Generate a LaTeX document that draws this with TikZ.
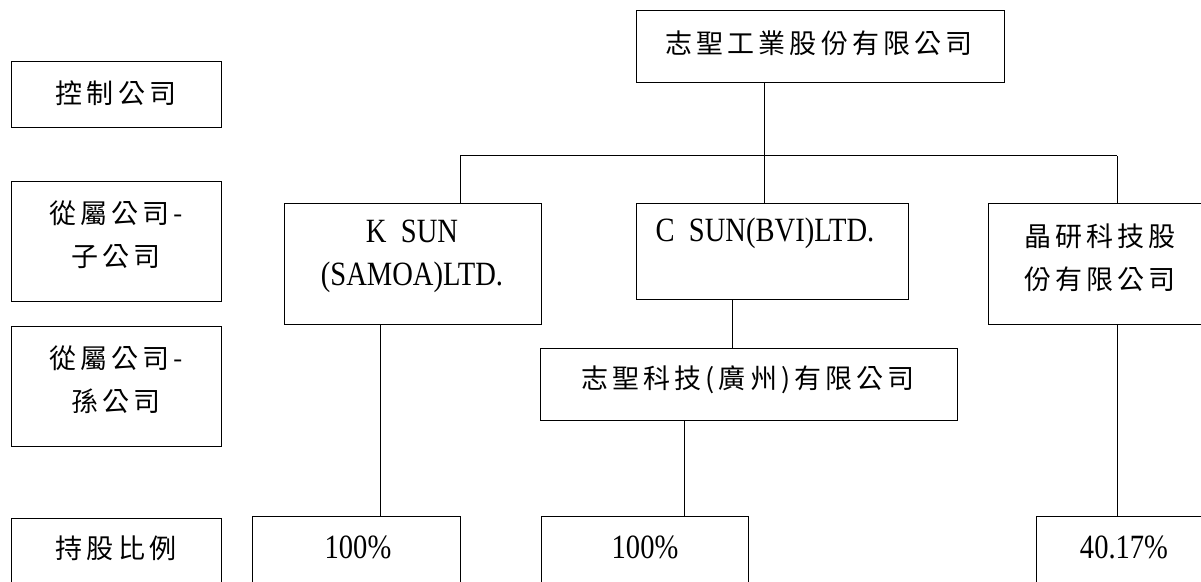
\documentclass[tikz,border=0pt]{standalone}
\usepackage{fontspec}
\newfontfamily\cjk{Noto Sans CJK TC}[LetterSpace=15]
\newfontfamily\lat{Liberation Serif}[FakeStretch=0.84,WordSpace=2]
\tikzset{
  boxst/.style={draw, line width=1bp, inner sep=0pt, outer sep=0pt, rectangle},
  cjktext/.style={font=\cjk\fontsize{27bp}{43bp}\selectfont, align=center, inner sep=0pt},
  lattext/.style={font=\lat\fontsize{34bp}{43bp}\selectfont, align=center, inner sep=0pt},
  conn/.style={line width=1bp}
}
\newcommand\mkbox[5]{\node[boxst, minimum width={(#4-#2)*1bp}, minimum height={(#5-#3)*1bp}] (#1) at ({(#2+#4)/2},{(#3+#5)/2}) {};}
\begin{document}
\begin{tikzpicture}[x=1bp,y=-1bp]
\useasboundingbox (0,0) rectangle (1201,582);
\fill[white] (0,0) rectangle (1201,582);
\clip (0,0) rectangle (1201,582);
% boxes
\mkbox{ctrl}{11}{62}{221}{128}
\mkbox{sub}{11}{182}{221}{302}
\mkbox{gsub}{11}{326}{221}{446}
\mkbox{pct}{11}{518}{221}{600}
\mkbox{top}{636}{11}{1004}{83}
\mkbox{ksun}{284}{204}{541}{324}
\mkbox{csun}{636}{204}{908}{300}
\mkbox{jy}{988}{204}{1214}{324}
\mkbox{gz}{540}{348}{957}{420}
\mkbox{pa}{252}{516}{460}{600}
\mkbox{pb}{541}{516}{748}{600}
\mkbox{pc}{1036}{516}{1212}{600}
% texts
\node[cjktext] (tctrl) at (116,93) {控制公司};
\node[cjktext] (tsub) at (116,234.5) {從屬公司-\\子公司};
\node[cjktext] (tgsub) at (116,379.5) {從屬公司-\\孫公司};
\node[cjktext] (tpct) at (116,548) {持股比例};
\node[cjktext] (ttop) at (819,43) {志聖工業股份有限公司};
\node[lattext] (tksun) at (412,256.5) {K SUN\\(SAMOA)LTD.};
\node[lattext] (tcsun) at (765,233) {C SUN(BVI)LTD.};
\node[cjktext] (tjy) at (1100,257.5) {晶研科技股\\份有限公司};
\node[cjktext] (tgz) at (748,380) {志聖科技(廣州)有限公司};
\node[lattext] (tpa) at (358,547) {100\%};
\node[lattext] (tpb) at (645,547) {100\%};
\node[lattext] (tpc) at (1124,547) {40.17\%};
% connectors
\coordinate (busL) at (460,156);
\coordinate (busM) at (764,156);
\coordinate (busR) at (1117,156);
\coordinate (xk) at (380,0);
\coordinate (xc) at (732,0);
\coordinate (xg) at (684,0);
\draw[conn] (busL) -- (busR);
\draw[conn] (top.south -| busM) -- (busM);
\draw[conn] (busM) -- (csun.north -| busM);
\draw[conn] (busL) -- (ksun.north -| busL);
\draw[conn] (busR) -- (jy.north -| busR);
\draw[conn] (ksun.south -| xk) -- (pa.north -| xk);
\draw[conn] (csun.south -| xc) -- (gz.north -| xc);
\draw[conn] (gz.south -| xg) -- (pb.north -| xg);
\draw[conn] (jy.south -| busR) -- (pc.north -| busR);
\end{tikzpicture}
\end{document}
